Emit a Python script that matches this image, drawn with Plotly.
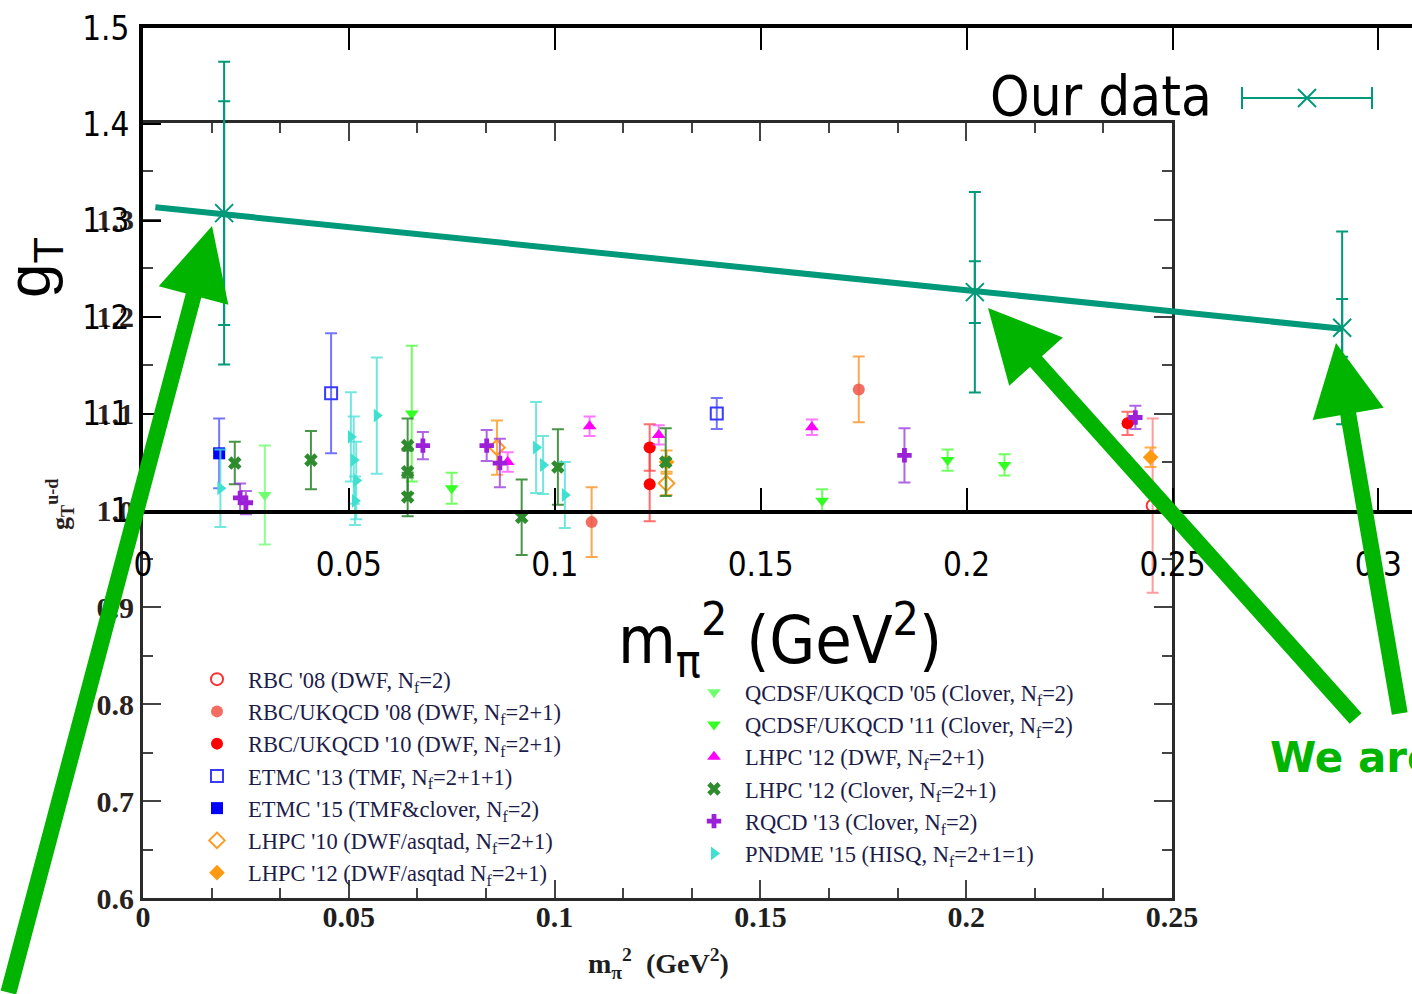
import plotly.graph_objects as go

W, H = 1412, 994

# ---------------- our data (outer axes) ----------------
our_x = [0.0197, 0.2020, 0.2912]
our_y = [1.308, 1.226, 1.189]
our_err_stat = [0.116, 0.032, 0.030]
our_err_tot = [0.157, 0.104, 0.100]
fit_x = [0.003, 0.2912]
fit_y = [1.314, 1.188]

# ---------------- background lattice compilation (inner axes) ----------------
rbc08_x = [0.2453]; rbc08_y = [1.005]; rbc08_e = [0.090]
rbcuk08_x = [0.109, 0.1739]; rbcuk08_y = [0.988, 1.125]; rbcuk08_e = [0.036, 0.034]
rbcuk10_x = [0.1231, 0.1231, 0.2392]; rbcuk10_y = [1.065, 1.027, 1.090]; rbcuk10_e = [0.024, 0.038, 0.012]
etmc13_x = [0.0457, 0.1394]; etmc13_y = [1.121, 1.100]; etmc13_e = [0.062, 0.016]
etmc15_x = [0.0185]; etmc15_y = [1.059]; etmc15_e = [0.036]
lhpc10_x = [0.086, 0.1272]; lhpc10_y = [1.065, 1.028]; lhpc10_e = [0.028, 0.012]
lhpc12a_x = [0.1272, 0.2448]; lhpc12a_y = [1.050, 1.055]; lhpc12a_e = [0.012, 0.010]
qcdsf05_x = [0.0296]; qcdsf05_y = [1.016]; qcdsf05_e = [0.051]
qcdsf11_x = [0.0653, 0.075, 0.165, 0.1955, 0.2093]
qcdsf11_y = [1.100, 1.023, 1.010, 1.052, 1.047]
qcdsf11_e = [0.070, 0.016, 0.012, 0.011, 0.011]
lhpc12d_x = [0.0886, 0.1085, 0.1253, 0.1625]
lhpc12d_y = [1.050, 1.087, 1.078, 1.086]
lhpc12d_e = [0.010, 0.010, 0.010, 0.008]
lhpc12c_x = [0.0223, 0.0408, 0.0643, 0.0643, 0.0643, 0.092, 0.1008, 0.127]
lhpc12c_y = [1.049, 1.052, 1.067, 1.040, 1.014, 0.993, 1.045, 1.050]
lhpc12c_e = [0.022, 0.030, 0.028, 0.022, 0.020, 0.039, 0.039, 0.035]
rqcd13_x = [0.0236, 0.0250, 0.068, 0.0835, 0.0867, 0.185, 0.2411]
rqcd13_y = [1.013, 1.008, 1.067, 1.067, 1.049, 1.057, 1.096]
rqcd13_e = [0.015, 0.012, 0.014, 0.016, 0.025, 0.028, 0.012]
pndme15_x = [0.0188, 0.0505, 0.0512, 0.0518, 0.0515, 0.0568, 0.0955, 0.0972, 0.1025]
pndme15_y = [1.023, 1.076, 1.052, 1.031, 1.010, 1.098, 1.065, 1.047, 1.016]
pndme15_e = [0.040, 0.046, 0.045, 0.040, 0.025, 0.060, 0.047, 0.030, 0.034]

inner_xticks = [0, 0.05, 0.1, 0.15, 0.2, 0.25]
inner_yticks = [0.6, 0.7, 0.8, 0.9, 1.0, 1.1, 1.2, 1.3, 1.4]
inner_yticktext = ["0.6", "0.7", "0.8", "0.9", "1.0", "1.1", "1.2", "1.3", ""]
outer_xticks = [0, 0.05, 0.1, 0.15, 0.2, 0.25, 0.3]
outer_yticks = [1.0, 1.1, 1.2, 1.3, 1.4, 1.5]

TEAL = "#00997a"
GREEN = "#00b400"
NARROW = "DejaVu Sans Condensed, Liberation Sans, sans-serif"
SERIF = "Liberation Serif, Times New Roman, serif"

fig = go.Figure()

def bg(name, xs, ys, es, symbol, color, ecolor, legend, size=12, open_=False):
    mk = dict(symbol=symbol, size=size, color=color)
    if open_:
        mk["line"] = dict(color=color, width=2)
    fig.add_trace(go.Scatter(
        x=xs, y=ys, mode="markers", name=name, legend=legend,
        marker=mk,
        error_y=dict(type="data", array=es, color=ecolor, thickness=2, width=6),
        xaxis="x", yaxis="y"))

bg("RBC '08 (DWF, N<sub>f</sub>=2)", rbc08_x, rbc08_y, rbc08_e,
   "circle-open", "#ff3030", "rgba(255,90,90,0.6)", "legend", open_=True)
bg("RBC/UKQCD '08 (DWF, N<sub>f</sub>=2+1)", rbcuk08_x, rbcuk08_y, rbcuk08_e,
   "circle", "rgba(240,85,70,0.85)", "rgba(255,150,50,0.85)", "legend")
bg("RBC/UKQCD '10 (DWF, N<sub>f</sub>=2+1)", rbcuk10_x, rbcuk10_y, rbcuk10_e,
   "circle", "#ff0000", "rgba(255,60,60,0.75)", "legend")
bg("ETMC '13 (TMF, N<sub>f</sub>=2+1+1)", etmc13_x, etmc13_y, etmc13_e,
   "square-open", "#3a3aff", "rgba(70,70,255,0.75)", "legend", open_=True)
bg("ETMC '15 (TMF&clover, N<sub>f</sub>=2)", etmc15_x, etmc15_y, etmc15_e,
   "square", "#0000ff", "rgba(70,70,255,0.75)", "legend")
bg("LHPC '10 (DWF/asqtad, N<sub>f</sub>=2+1)", lhpc10_x, lhpc10_y, lhpc10_e,
   "diamond-open", "#ff9a20", "rgba(255,160,40,0.85)", "legend", open_=True)
bg("LHPC '12 (DWF/asqtad N<sub>f</sub>=2+1)", lhpc12a_x, lhpc12a_y, lhpc12a_e,
   "diamond", "#ff9a10", "rgba(255,160,40,0.85)", "legend")
bg("QCDSF/UKQCD '05 (Clover, N<sub>f</sub>=2)", qcdsf05_x, qcdsf05_y, qcdsf05_e,
   "triangle-down", "#70ff70", "rgba(110,255,110,0.8)", "legend2")
bg("QCDSF/UKQCD '11 (Clover, N<sub>f</sub>=2)", qcdsf11_x, qcdsf11_y, qcdsf11_e,
   "triangle-down", "#33ff22", "rgba(80,255,60,0.8)", "legend2")
bg("LHPC '12 (DWF, N<sub>f</sub>=2+1)", lhpc12d_x, lhpc12d_y, lhpc12d_e,
   "triangle-up", "#ff00ff", "rgba(255,60,255,0.7)", "legend2")
bg("LHPC '12 (Clover, N<sub>f</sub>=2+1)", lhpc12c_x, lhpc12c_y, lhpc12c_e,
   "x", "#2e8b2e", "rgba(40,130,40,0.85)", "legend2")
bg("RQCD '13 (Clover, N<sub>f</sub>=2)", rqcd13_x, rqcd13_y, rqcd13_e,
   "cross", "#9b20d8", "rgba(150,50,220,0.75)", "legend2")
bg("PNDME '15 (HISQ, N<sub>f</sub>=2+1=1)", pndme15_x, pndme15_y, pndme15_e,
   "triangle-right", "#40e0d0", "rgba(80,225,215,0.8)", "legend2")

# empty trace so the label-only inner x axis is drawn
fig.add_trace(go.Scatter(x=[None], y=[None], mode="markers", showlegend=False,
                         hoverinfo="skip", xaxis="x5", yaxis="y"))

# our data on outer axes
fig.add_trace(go.Scatter(x=fit_x, y=fit_y, mode="lines", showlegend=False,
                         line=dict(color=TEAL, width=6), xaxis="x2", yaxis="y2"))
fig.add_trace(go.Scatter(x=our_x, y=our_y, mode="markers", showlegend=False,
                         marker=dict(symbol="x-thin", size=18, line=dict(color=TEAL, width=2)),
                         error_y=dict(type="data", array=our_err_tot, color=TEAL, thickness=2, width=6),
                         xaxis="x2", yaxis="y2"))
fig.add_trace(go.Scatter(x=our_x, y=our_y, mode="markers", showlegend=False,
                         marker=dict(size=1, color="rgba(0,0,0,0)"),
                         error_y=dict(type="data", array=our_err_stat, color=TEAL, thickness=2, width=6),
                         xaxis="x2", yaxis="y2"))

# legend sample for "Our data" on a pixel helper axis
LEG_X, LEG_Y, LEG_HALF = 1307, 98, 65
fig.add_trace(go.Scatter(x=[LEG_X], y=[LEG_Y], mode="markers", showlegend=False,
                         marker=dict(symbol="x-thin", size=18, line=dict(color=TEAL, width=2)),
                         error_x=dict(type="constant", value=LEG_HALF, color=TEAL, thickness=2, width=11),
                         xaxis="x3", yaxis="y3"))

def px(xp):
    return xp / W

def py(yp):
    return 1 - yp / H

inner_axis_common = dict(showline=True, linecolor="#2a2a2a", linewidth=3, mirror="ticks",
                         ticks="inside", tickcolor="#444", tickwidth=2, ticklen=18,
                         showgrid=False, zeroline=False)
narrow_tick = dict(family=NARROW, size=33, color="black")

fig.update_layout(
    width=W, height=H, autosize=False,
    margin=dict(l=0, r=0, t=0, b=0, autoexpand=False),
    paper_bgcolor="white", plot_bgcolor="rgba(0,0,0,0)",
    xaxis=dict(domain=[px(143), px(1172)], range=[0, 0.25], anchor="y",
               tickvals=inner_xticks, showticklabels=False,
               minor=dict(dtick=0.05 / 3, ticklen=10, ticks="inside", tickcolor="#444", tickwidth=2),
               **inner_axis_common),
    # tick labels of the inner x axis
    xaxis5=dict(overlaying="x", anchor="free", position=py(896), range=[0, 0.25],
                tickvals=inner_xticks, ticks="", showline=False, showgrid=False,
                zeroline=False, ticklabelstandoff=0,
                tickfont=dict(family=SERIF, size=30, color="#1e1e1e", weight="bold")),
    yaxis=dict(domain=[py(898), py(123)], range=[0.6, 1.4], anchor="x",
               tickvals=inner_yticks, ticktext=inner_yticktext, ticklabelstandoff=0,
               tickfont=dict(family=SERIF, size=30, color="#2a2220", weight="bold"),
               minor=dict(dtick=0.05, ticklen=10, ticks="inside", tickcolor="#444", tickwidth=2),
               **inner_axis_common),
    xaxis2=dict(domain=[px(143), 1.0], range=[0, (W - 143) / 4118], anchor="y2",
                tickvals=outer_xticks, showline=True, linecolor="black", linewidth=4,
                mirror="ticks", ticks="inside", ticklen=22, tickwidth=2, tickcolor="black",
                ticklabelstandoff=22, showgrid=False, zeroline=False,
                tickfont=narrow_tick),
    yaxis2=dict(domain=[py(510), py(28)], range=[1.0, 1.5], anchor="x2",
                tickvals=outer_yticks, showline=True, linecolor="black", linewidth=4,
                ticks="inside", ticklen=18, tickwidth=2, tickcolor="black",
                ticklabelstandoff=3, showgrid=False, zeroline=False,
                tickfont=narrow_tick),
    yaxis4=dict(overlaying="y2", side="right", anchor="x2", range=[1.0, 1.5],
                tickvals=outer_yticks, ticks="inside", ticklen=6, tickwidth=3,
                tickcolor="black", showticklabels=False, showline=False,
                showgrid=False, zeroline=False),
    xaxis3=dict(domain=[0, 1], range=[0, W], visible=False, anchor="y3"),
    yaxis3=dict(domain=[0, 1], range=[H, 0], visible=False, anchor="x3"),
    legend=dict(x=px(186), y=py(658), xanchor="left", yanchor="top", itemwidth=52,
                bgcolor="rgba(0,0,0,0)", font=dict(family=SERIF, size=22.5, color="#1c1c4a"),
                tracegroupgap=0),
    legend2=dict(x=px(683), y=py(671), xanchor="left", yanchor="top", itemwidth=52,
                 bgcolor="rgba(0,0,0,0)", font=dict(family=SERIF, size=22.5, color="#1c1c4a"),
                 tracegroupgap=0),
)

ann = []
ann.append(dict(text="Our data", x=px(1214), y=py(96), xref="paper", yref="paper",
                xanchor="right", yanchor="middle", showarrow=False,
                font=dict(family=NARROW, size=56, color="black")))
ann.append(dict(text="m<sub>π</sub><sup>2</sup> (GeV<sup>2</sup>)", x=px(780), y=py(640),
                xref="paper", yref="paper", xanchor="center", yanchor="middle", showarrow=False,
                font=dict(family=NARROW, size=66, color="black")))
ann.append(dict(text="g<sub>T</sub>", x=px(33), y=py(268), xref="paper", yref="paper",
                xanchor="center", yanchor="middle", textangle=-90, showarrow=False,
                font=dict(family="Liberation Sans, Arial, sans-serif", size=62, color="black")))
ann.append(dict(text="g<sub>T</sub><sup>u-d</sup>", x=px(60), y=py(505), xref="paper", yref="paper",
                xanchor="center", yanchor="middle", textangle=-90, showarrow=False,
                font=dict(family=SERIF, size=26, color="#2a2220", weight="bold")))
ann.append(dict(text="m<sub>π</sub><sup>2</sup>  (GeV<sup>2</sup>)", x=px(658), y=py(963),
                xref="paper", yref="paper", xanchor="center", yanchor="middle", showarrow=False,
                font=dict(family=SERIF, size=28, color="#1e1e1e", weight="bold")))
ann.append(dict(text="We are", x=px(1268), y=py(757), xref="paper", yref="paper",
                xanchor="left", yanchor="middle", showarrow=False,
                font=dict(family="DejaVu Sans, Verdana, sans-serif", size=42, color=GREEN,
                          weight="bold")))
# green arrows: (tip, tail) in pixels
arrows = [((212, 226), (8, 1010)), ((988, 308), (1357, 720)), ((1336, 343), (1400, 715))]
for (tx, ty), (sx, sy) in arrows:
    ann.append(dict(text="", x=px(tx), y=py(ty), xref="paper", yref="paper",
                    ax=sx - tx, ay=sy - ty, showarrow=True, arrowhead=2, arrowsize=0.9,
                    arrowwidth=16, arrowcolor=GREEN))
fig.update_layout(annotations=ann)

fig.write_html("out.html")
